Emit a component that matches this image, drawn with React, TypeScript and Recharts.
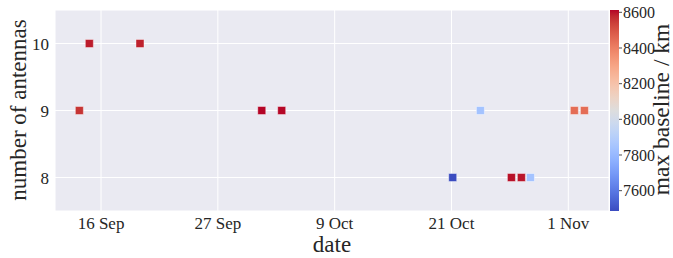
import React from 'react';
import { ScatterChart, Scatter, XAxis, YAxis, CartesianGrid, Cell, ComposedChart } from 'recharts';

// x: days counted from 31 Aug (1 = 1 Sep, 31 = 1 Oct ...)
const days = [14.15, 15.14, 20.17, 32.26, 34.24, 51.22, 53.97, 57.05, 58.04, 58.94, 63.3, 64.3];
const antennas = [9, 10, 10, 9, 9, 8, 9, 8, 8, 8, 9, 9];
const baselines = [8557, 8590, 8585, 8613, 8610, 7486, 7841, 8600, 8595, 7841, 8444, 8444];

const xTicks = [16.3, 27.9, 39.5, 51.1, 62.7];
const xTickLabels = ['16 Sep', '27 Sep', '9 Oct', '21 Oct', '1 Nov'];
const yTicks = [8, 9, 10];
const cbTicks = [7600, 7800, 8000, 8200, 8400, 8600];

const coolwarm: number[][] = [
  [59, 76, 192], [68, 90, 204], [77, 104, 215], [87, 117, 225], [98, 130, 234], [108, 142, 241],
  [119, 154, 247], [130, 165, 251], [141, 176, 254], [152, 185, 255], [163, 194, 255], [174, 201, 253],
  [184, 208, 249], [194, 213, 244], [204, 217, 238], [213, 219, 230], [221, 221, 221], [229, 216, 209],
  [236, 211, 197], [241, 204, 185], [245, 196, 173], [247, 187, 160], [247, 177, 148], [247, 166, 135],
  [244, 154, 123], [241, 141, 111], [236, 127, 99], [229, 112, 88], [222, 96, 77], [213, 80, 66],
  [203, 62, 56], [192, 40, 47], [180, 4, 38],
];

const vmin = Math.min(...baselines);
const vmax = Math.max(...baselines);

function cw(t: number): string {
  const tt = Math.max(0, Math.min(1, t)) * (coolwarm.length - 1);
  const i = Math.min(coolwarm.length - 2, Math.floor(tt));
  const f = tt - i;
  const a = coolwarm[i], b = coolwarm[i + 1];
  const c = a.map((v, k) => Math.round(v + (b[k] - v) * f));
  return `rgb(${c[0]},${c[1]},${c[2]})`;
}

const gradientCss = 'linear-gradient(to top, ' + coolwarm
  .map((c, i) => `rgb(${c[0]},${c[1]},${c[2]}) ${((i / (coolwarm.length - 1)) * 100).toFixed(2)}%`)
  .join(', ') + ')';

const data = days.map((d, i) => ({ day: d, n: antennas[i], b: baselines[i] }));

const FONT = '"Liberation Serif", "DejaVu Serif", serif';
const TXT = '#262626';

export default function App() {
  return (
    <div style={{ position: 'absolute', left: 0, top: 0, width: 673, height: 258, background: '#fff', fontFamily: FONT }}>
      <div style={{ position: 'absolute', left: 0, top: 0 }}>
        <ScatterChart width={673} height={258} margin={{ top: 10, right: 64, bottom: 0, left: 0 }}>
          <CartesianGrid stroke="#ffffff" strokeWidth={1} fill="#EAEAF2" fillOpacity={1} />
          <XAxis
            type="number"
            dataKey="day"
            domain={[11.73, 66.74]}
            ticks={xTicks}
            tickFormatter={(v: number) => xTickLabels[xTicks.indexOf(v)] ?? ''}
            allowDataOverflow
            height={47}
            tickSize={0}
            tickMargin={6}
            axisLine={false}
            tickLine={false}
            tick={{ fontSize: 17, fill: TXT, fontFamily: FONT }}
            label={() => (
              <text x={332} y={251.5} textAnchor="middle" fontSize={23} fill={TXT} fontFamily={FONT}>date</text>
            )}
          />
          <YAxis
            type="number"
            dataKey="n"
            domain={[7.5, 10.5]}
            ticks={yTicks}
            allowDataOverflow
            width={55}
            tickSize={0}
            tickMargin={6}
            axisLine={false}
            tickLine={false}
            tick={{ fontSize: 17, fill: TXT, fontFamily: FONT }}
            label={() => (
              <text x={25.5} y={110} transform="rotate(-90 25.5 110)" textAnchor="middle" fontSize={23} fill={TXT} fontFamily={FONT}>number of antennas</text>
            )}
          />
          <Scatter data={data} shape="square" isAnimationActive={false} stroke="#ffffff" strokeWidth={0.7} strokeOpacity={0.6}>
            {data.map((d, i) => (
              <Cell key={i} fill={cw((d.b - vmin) / (vmax - vmin))} />
            ))}
          </Scatter>
        </ScatterChart>
      </div>
      <div style={{ position: 'absolute', left: 610, top: 10, width: 9, height: 201, background: gradientCss }} />
      <div style={{ position: 'absolute', left: 0, top: 0, pointerEvents: 'none' }}>
        <ComposedChart width={673} height={258} margin={{ top: 10, right: 0, bottom: 47, left: 610 }}>
          <XAxis type="number" dataKey="x" domain={[0, 1]} hide />
          <YAxis
            orientation="right"
            type="number"
            domain={[vmin, vmax]}
            ticks={cbTicks}
            allowDataOverflow
            width={54}
            tickSize={3}
            tickMargin={1}
            axisLine={false}
            tickLine={{ stroke: TXT, strokeWidth: 0.8 }}
            tick={{ fontSize: 16, fill: TXT, fontFamily: FONT }}
            label={() => (
              <text x={669} y={109.5} transform="rotate(-90 669 109.5)" textAnchor="middle" fontSize={23.5} fill={TXT} fontFamily={FONT}>max baseline / km</text>
            )}
          />
        </ComposedChart>
      </div>
    </div>
  );
}
